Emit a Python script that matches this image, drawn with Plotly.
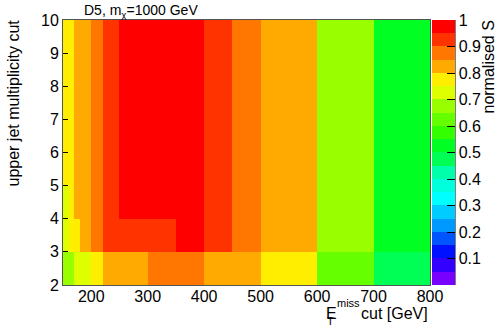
import plotly.graph_objects as go

# ---- data ----
x_edges = [150, 160, 170, 180, 200, 220, 250, 300, 350, 400, 450, 500, 600, 700, 800]
y_edges = [2, 3, 4, 5, 6, 7, 8, 9, 10]

row_2 = [0.67, 0.67, 0.72, 0.72, 0.77, 0.82, 0.82, 0.87, 0.87, 0.82, 0.82, 0.77, 0.62, 0.47]
row_3 = [0.72, 0.77, 0.77, 0.82, 0.87, 0.92, 0.92, 0.92, 0.97, 0.92, 0.87, 0.82, 0.67, 0.52]
row_4 = [0.72, 0.77, 0.82, 0.82, 0.87, 0.92, 0.97, 0.97, 0.97, 0.92, 0.87, 0.82, 0.67, 0.52]
row_5_to_9 = [0.77, 0.77, 0.82, 0.82, 0.87, 0.92, 0.97, 0.97, 0.97, 0.92, 0.87, 0.82, 0.67, 0.52]

z = [row_2, row_3, row_4] + [row_5_to_9] * 5

palette = ["#7700ff", "#3300ff", "#0011ff", "#0055ff", "#0099ff",
           "#00ccff", "#00ffff", "#00ffdd", "#00ffaa", "#00ff55",
           "#00ff22", "#33ff00", "#66ff00", "#99ff00", "#ddff00",
           "#ffee00", "#ffaa00", "#ff7700", "#ff3300", "#ff0000"]

cb_ticks = [0.1, 0.2, 0.3, 0.4, 0.5, 0.6, 0.7, 0.8, 0.9, 1]
x_ticks = [200, 300, 400, 500, 600, 700, 800]

n = len(palette)
colorscale = []
for i, c in enumerate(palette):
    colorscale.append([i / n, c])
    colorscale.append([(i + 1) / n, c])

FONT = "Liberation Sans, Arial, Helvetica, sans-serif"

fig = go.Figure(go.Heatmap(
    x=x_edges, y=y_edges, z=z,
    zmin=0, zmax=1, colorscale=colorscale,
    colorbar=dict(
        x=1.0054, xanchor="left", xpad=0, y=0.5, yanchor="middle", ypad=0,
        len=1, lenmode="fraction", thickness=23, thicknessmode="pixels",
        outlinewidth=0, ticks="inside", ticklen=8, tickcolor="black", tickwidth=1,
        tickvals=cb_ticks, ticktext=[f"{v:g}" for v in cb_ticks],
        tickfont=dict(family=FONT, size=16, color="black"),
    ),
    hoverinfo="skip",
))

L, R, T, B = 63, 67, 20, 47
W, H = 497, 332
pw, ph = W - L - R, H - T - B

def px(xp):
    return (xp - L) / pw

def py(yp):
    return (H - B - yp) / ph

fig.update_layout(
    width=W, height=H,
    margin=dict(l=L, r=R, t=T, b=B, pad=0, autoexpand=False),
    paper_bgcolor="white", plot_bgcolor="white",
    font=dict(family=FONT, size=16, color="black"),
    xaxis=dict(range=[150, 800], tickvals=x_ticks, ticks="", showgrid=False,
               zeroline=False, showline=True, linecolor="#555555", linewidth=1,
               mirror=True, tickfont=dict(size=16), automargin=False,
               ticklabelstandoff=-3),
    yaxis=dict(range=[2, 10], dtick=1, ticks="inside", ticklen=5, tickcolor="black",
               showgrid=False, zeroline=False, showline=True, linecolor="#555555",
               linewidth=1, mirror=True, tickfont=dict(size=16), automargin=False),
    annotations=[
        dict(text="D5, m<sub>χ</sub>=1000 GeV", xref="paper", yref="paper",
             x=px(82), y=py(22), xanchor="left", yanchor="bottom", showarrow=False,
             font=dict(size=14)),
        dict(text="upper jet multiplicity cut", xref="paper", yref="paper",
             x=px(13), y=py(18), xanchor="center", yanchor="top", textangle=-90,
             showarrow=False, font=dict(size=16)),
        dict(text="normalised S", xref="paper", yref="paper",
             x=px(488), y=py(18), xanchor="center", yanchor="top", textangle=-90,
             showarrow=False, font=dict(size=16)),
        dict(text="cut [GeV]", xref="paper", yref="paper",
             x=px(430), y=py(313), xanchor="right", yanchor="middle",
             showarrow=False, font=dict(size=16)),
        dict(text="E", xref="paper", yref="paper",
             x=px(324), y=py(313), xanchor="left", yanchor="middle",
             showarrow=False, font=dict(size=16)),
        dict(text="miss", xref="paper", yref="paper",
             x=px(335), y=py(303), xanchor="left", yanchor="middle",
             showarrow=False, font=dict(size=11)),
        dict(text="T", xref="paper", yref="paper",
             x=px(325), y=py(321), xanchor="left", yanchor="middle",
             showarrow=False, font=dict(size=11)),
    ],
    shapes=[
        dict(type="line", xref="paper", yref="paper",
             x0=px(455), x1=px(455), y0=0, y1=1,
             line=dict(color="black", width=1)),
    ],
)

fig.write_html("out.html", config={"displayModeBar": False},
               post_script="document.body.style.margin='0';")
